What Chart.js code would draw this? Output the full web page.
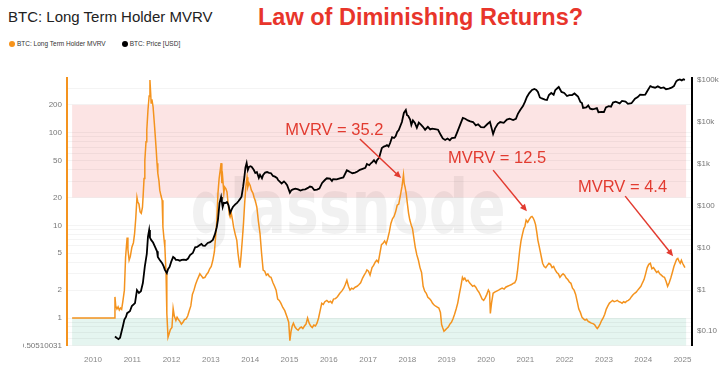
<!DOCTYPE html>
<html><head><meta charset="utf-8">
<script src="https://cdn.jsdelivr.net/npm/chart.js@4.4.1/dist/chart.umd.min.js"></script>
<style>
html,body{margin:0;padding:0;background:#fff;width:723px;height:377px;overflow:hidden;font-family:"Liberation Sans",Arial,sans-serif;}
#title{position:absolute;left:8px;top:8px;font-size:15px;color:#222;white-space:nowrap;}
#sub{position:absolute;left:258px;top:4px;font-size:23.5px;font-weight:bold;color:#e8352b;white-space:nowrap;}
#legend{position:absolute;left:9px;top:40px;font-size:6.5px;color:#333;white-space:nowrap;}
.dot{display:inline-block;width:6px;height:6px;border-radius:50%;margin-right:2px;vertical-align:-1px}
#wrap{position:absolute;left:23px;top:0;width:700px;height:377px;}
</style></head><body>
<div id="title">BTC: Long Term Holder MVRV</div>
<div id="sub">Law of Diminishing Returns?</div>
<div id="legend"><span class="dot" style="background:#f7931a"></span>BTC: Long Term Holder MVRV<span style="display:inline-block;width:16px"></span><span class="dot" style="background:#000"></span>BTC: Price [USD]</div>
<div id="wrap"><canvas id="c" width="700" height="377"></canvas></div>
<script>
// ---- data (decimal years) ----
const mvrvYears = [2009.47,2010.55,2010.56,2010.58,2010.61,2010.64,2010.67,2010.70,2010.73,2010.76,2010.80,2010.83,2010.85,2010.87,2010.89,2010.92,2010.95,2010.99,2011.03,2011.06,2011.09,2011.12,2011.14,2011.17,2011.20,2011.23,2011.26,2011.28,2011.30,2011.32,2011.35,2011.37,2011.40,2011.43,2011.45,2011.47,2011.48,2011.50,2011.53,2011.56,2011.58,2011.61,2011.63,2011.65,2011.68,2011.70,2011.73,2011.76,2011.78,2011.81,2011.83,2011.86,2011.88,2011.91,2011.94,2011.97,2012.01,2012.04,2012.07,2012.11,2012.14,2012.17,2012.21,2012.25,2012.29,2012.33,2012.37,2012.41,2012.45,2012.49,2012.53,2012.57,2012.61,2012.65,2012.69,2012.72,2012.76,2012.80,2012.85,2012.89,2012.93,2012.97,2013.01,2013.05,2013.09,2013.12,2013.15,2013.18,2013.21,2013.24,2013.26,2013.28,2013.30,2013.33,2013.35,2013.38,2013.41,2013.44,2013.47,2013.49,2013.52,2013.55,2013.58,2013.62,2013.66,2013.69,2013.72,2013.74,2013.77,2013.80,2013.83,2013.86,2013.89,2013.92,2013.94,2013.97,2014.00,2014.03,2014.07,2014.10,2014.13,2014.17,2014.21,2014.25,2014.29,2014.33,2014.37,2014.41,2014.45,2014.49,2014.53,2014.58,2014.62,2014.66,2014.70,2014.74,2014.78,2014.83,2014.88,2014.94,2014.98,2015.01,2015.04,2015.07,2015.10,2015.14,2015.18,2015.22,2015.26,2015.30,2015.34,2015.38,2015.42,2015.46,2015.50,2015.54,2015.58,2015.62,2015.66,2015.70,2015.74,2015.78,2015.82,2015.86,2015.90,2015.95,2016.00,2016.04,2016.08,2016.12,2016.17,2016.22,2016.28,2016.33,2016.38,2016.42,2016.46,2016.50,2016.54,2016.58,2016.62,2016.67,2016.72,2016.77,2016.81,2016.86,2016.90,2016.94,2016.97,2017.01,2017.05,2017.10,2017.14,2017.18,2017.22,2017.26,2017.30,2017.34,2017.38,2017.42,2017.46,2017.50,2017.54,2017.58,2017.62,2017.66,2017.70,2017.74,2017.78,2017.82,2017.86,2017.88,2017.90,2017.92,2017.94,2017.97,2018.00,2018.03,2018.06,2018.10,2018.13,2018.16,2018.20,2018.24,2018.28,2018.32,2018.36,2018.40,2018.44,2018.48,2018.52,2018.56,2018.60,2018.64,2018.68,2018.72,2018.76,2018.80,2018.84,2018.87,2018.90,2018.93,2018.96,2019.00,2019.04,2019.08,2019.12,2019.16,2019.20,2019.24,2019.28,2019.32,2019.36,2019.40,2019.43,2019.46,2019.50,2019.54,2019.58,2019.62,2019.66,2019.70,2019.74,2019.78,2019.82,2019.86,2019.90,2019.94,2019.98,2020.02,2020.06,2020.09,2020.11,2020.14,2020.18,2020.22,2020.27,2020.32,2020.36,2020.41,2020.46,2020.50,2020.55,2020.60,2020.65,2020.69,2020.73,2020.77,2020.80,2020.83,2020.86,2020.89,2020.92,2020.96,2020.99,2021.02,2021.06,2021.10,2021.14,2021.17,2021.20,2021.23,2021.26,2021.29,2021.32,2021.35,2021.38,2021.41,2021.44,2021.48,2021.52,2021.56,2021.60,2021.64,2021.68,2021.72,2021.76,2021.80,2021.84,2021.88,2021.92,2021.96,2022.00,2022.04,2022.08,2022.12,2022.16,2022.20,2022.24,2022.28,2022.32,2022.36,2022.40,2022.44,2022.48,2022.52,2022.56,2022.60,2022.64,2022.68,2022.72,2022.76,2022.80,2022.83,2022.86,2022.90,2022.94,2022.98,2023.02,2023.06,2023.10,2023.14,2023.18,2023.22,2023.26,2023.30,2023.34,2023.38,2023.42,2023.46,2023.50,2023.54,2023.58,2023.62,2023.66,2023.70,2023.74,2023.78,2023.82,2023.86,2023.90,2023.94,2023.98,2024.02,2024.06,2024.10,2024.14,2024.18,2024.22,2024.26,2024.30,2024.34,2024.38,2024.42,2024.46,2024.50,2024.54,2024.58,2024.62,2024.66,2024.70,2024.74,2024.78,2024.82,2024.85,2024.88,2024.91,2024.94,2024.97,2025.00,2025.03,2025.06];
const mvrvValues = [1.0,1.0,1.69,1.35,1.25,1.32,1.22,1.28,1.24,1.5,2.0,4.5,5.8,7.4,5.5,4.2,4.6,5.8,6.5,8.2,12,20,18,17,14,13.5,15.7,22,32,50,80,107,176,250,371,260,209,230,190,130,99,65,47,36.6,30,24,21,18.7,9.6,7,5.8,3.0,1.12,0.62,0.68,0.75,0.79,1.27,1.05,0.94,1.02,0.97,0.92,0.86,0.9,0.96,0.98,1.05,1.2,1.35,1.8,2.0,2.3,2.56,2.8,3.0,2.85,2.7,2.75,2.95,3.1,3.4,3.6,4.2,5.2,7.5,11,22,32,40,47,28.6,33,22.3,26,25,23,17,13,12.3,13.5,11.5,9.5,8,6.9,5,4.0,3.5,4.8,7,10.5,17.4,26,33,25.9,28.6,27,24,22.3,20,18.5,15.7,11,8.2,5,3.3,3.2,2.9,3.0,2.8,2.75,2.4,2.2,2.0,1.6,1.55,1.45,1.3,1.2,1.02,0.9,0.57,0.72,0.82,0.88,0.8,0.76,0.74,0.78,0.8,0.77,0.82,0.86,1.0,0.88,0.82,0.79,0.84,0.82,0.88,1.0,1.2,1.44,1.4,1.5,1.55,1.48,1.52,1.45,1.6,1.62,1.7,1.85,1.95,2.1,2.3,2.56,2.2,2.0,2.1,2.05,2.15,2.2,2.3,2.4,2.7,2.9,3.1,3.3,3.2,2.9,3.5,3.7,4.0,4.2,4.0,5.0,6.2,6.4,6.8,6.3,7.2,8.5,10.5,11.8,12.5,14,16.5,17,21,26,30,35.2,28,26,22,17,13.5,11.5,10,9.2,7.5,5.8,4.8,4.2,3.5,3.1,2.2,1.95,1.85,1.67,1.62,1.55,1.44,1.38,1.34,1.31,1.28,1.15,0.85,0.78,0.72,0.74,0.77,0.8,0.86,0.9,0.98,1.1,1.25,1.45,1.8,2.2,2.75,2.6,2.7,2.5,2.56,2.4,2.3,2.2,2.25,2.15,2.0,1.9,1.75,1.6,1.55,1.65,1.8,2.0,1.9,1.12,1.45,1.85,1.9,1.95,2.0,2.05,2.1,2.05,2.15,2.2,2.25,2.3,2.37,2.4,2.6,3.2,4.2,5.5,6.8,7.8,9.2,9.8,11.4,10.8,11.6,12.3,12.5,12.0,11.2,10.2,8.5,6.9,6.0,5.2,4.5,3.9,3.6,3.5,3.7,3.9,3.8,3.5,3.6,3.3,3.1,3.0,2.75,2.9,3.0,2.9,2.7,2.6,2.45,2.37,2.1,2.0,1.8,1.5,1.25,1.15,1.02,0.98,0.95,0.97,0.92,0.9,0.88,0.87,0.85,0.8,0.77,0.8,0.86,0.94,1.0,1.1,1.25,1.35,1.45,1.5,1.55,1.5,1.52,1.55,1.5,1.48,1.44,1.5,1.47,1.52,1.55,1.6,1.7,1.78,1.85,1.9,2.0,2.1,2.2,2.4,2.6,3.0,3.5,3.8,3.9,3.4,3.5,3.3,3.1,3.2,3.0,2.9,2.8,2.75,2.5,2.2,2.4,2.7,3.1,3.6,4.0,4.3,4.4,4.1,3.9,4.2,3.9,3.7,3.5];
const priceYears = [2010.56,2010.60,2010.65,2010.69,2010.73,2010.76,2010.80,2010.84,2010.87,2010.94,2010.99,2011.07,2011.12,2011.17,2011.22,2011.27,2011.32,2011.37,2011.40,2011.43,2011.45,2011.48,2011.53,2011.58,2011.63,2011.65,2011.70,2011.76,2011.80,2011.83,2011.88,2011.91,2011.95,2011.99,2012.04,2012.08,2012.11,2012.16,2012.21,2012.26,2012.31,2012.37,2012.42,2012.47,2012.54,2012.60,2012.65,2012.70,2012.76,2012.80,2012.85,2012.92,2012.98,2013.05,2013.10,2013.15,2013.18,2013.22,2013.26,2013.28,2013.30,2013.33,2013.37,2013.41,2013.45,2013.49,2013.53,2013.56,2013.62,2013.66,2013.70,2013.74,2013.78,2013.82,2013.85,2013.88,2013.91,2013.94,2013.97,2014.01,2014.04,2014.09,2014.13,2014.17,2014.22,2014.25,2014.30,2014.33,2014.38,2014.43,2014.48,2014.53,2014.58,2014.63,2014.68,2014.71,2014.76,2014.80,2014.86,2014.90,2014.94,2015.01,2015.05,2015.09,2015.15,2015.22,2015.28,2015.34,2015.40,2015.47,2015.52,2015.57,2015.63,2015.70,2015.76,2015.83,2015.90,2015.95,2016.03,2016.08,2016.11,2016.20,2016.28,2016.37,2016.46,2016.50,2016.54,2016.60,2016.67,2016.73,2016.79,2016.86,2016.93,2016.97,2017.03,2017.07,2017.10,2017.15,2017.20,2017.23,2017.28,2017.35,2017.40,2017.45,2017.48,2017.52,2017.56,2017.61,2017.66,2017.70,2017.74,2017.78,2017.81,2017.86,2017.91,2017.96,2017.99,2018.02,2018.07,2018.10,2018.14,2018.19,2018.24,2018.29,2018.35,2018.40,2018.45,2018.52,2018.58,2018.63,2018.70,2018.78,2018.85,2018.90,2018.96,2019.02,2019.08,2019.13,2019.21,2019.26,2019.34,2019.41,2019.47,2019.54,2019.60,2019.67,2019.74,2019.80,2019.87,2019.95,2020.03,2020.10,2020.18,2020.23,2020.30,2020.36,2020.45,2020.53,2020.60,2020.69,2020.76,2020.81,2020.87,2020.94,2020.99,2021.04,2021.10,2021.17,2021.23,2021.28,2021.32,2021.37,2021.42,2021.50,2021.55,2021.60,2021.66,2021.72,2021.76,2021.82,2021.85,2021.92,2021.99,2022.06,2022.12,2022.19,2022.25,2022.34,2022.40,2022.44,2022.47,2022.55,2022.60,2022.65,2022.70,2022.76,2022.82,2022.86,2022.95,2023.00,2023.05,2023.12,2023.18,2023.23,2023.30,2023.40,2023.46,2023.55,2023.61,2023.70,2023.79,2023.86,2023.92,2024.00,2024.05,2024.10,2024.18,2024.22,2024.30,2024.37,2024.45,2024.52,2024.58,2024.65,2024.72,2024.78,2024.84,2024.88,2024.93,2024.98,2025.02,2025.06];
const priceValues = [0.075,0.07,0.065,0.07,0.1,0.13,0.19,0.22,0.27,0.3,0.4,0.47,0.96,0.82,0.9,1.41,3.5,7,18,25.8,17,15,13,10.2,8,5.9,5,4.2,3.5,2.9,2.44,3,3.4,4.5,5.9,5.5,5.0,5.0,4.8,5.0,5.1,5.0,5.4,6.5,7.3,10,10.2,11,12,11,10.8,12.7,13.3,15,20,30,45,113,158,120,91,115,113,120,100,66,80,91,105,113,125,140,160,273,450,800,1020,690,820,850,820,700,590,620,450,530,440,530,600,620,590,580,500,480,450,400,359,330,370,340,300,200,230,240,250,240,225,235,240,260,280,273,230,236,250,340,400,440,430,380,420,415,440,460,680,650,620,580,600,640,700,740,780,960,900,1000,1050,1180,1020,1200,1350,2310,2500,2600,2700,2500,3040,4200,4000,4400,5600,6200,7300,9600,15800,18600,14000,13500,11000,8200,10500,9100,7000,9300,8200,7300,6300,7400,6400,6700,6500,6300,4700,3900,3600,3900,3550,4000,4100,5300,8200,12000,11500,10500,10000,9600,8000,8500,7300,7200,8500,9700,5000,6800,8700,9600,9200,11000,11500,10700,11500,15000,18600,23000,29000,37900,47000,55600,59000,56000,50000,37000,35000,33000,32200,42300,47200,43000,55000,62000,65600,50000,47200,40000,42000,42300,46000,39000,29000,27300,20800,21500,23800,20000,19400,19800,20600,16500,16800,16600,21500,23000,22300,28000,29200,26800,30500,29300,26000,27000,34500,37700,43000,42500,43000,52000,69000,66000,63000,68000,62000,64000,58000,60000,63000,69000,90000,96000,99000,94000,100000,97000];
// axis tick labels
const yearTicks = [2010,2011,2012,2013,2014,2015,2016,2017,2018,2019,2020,2021,2022,2023,2024,2025];
const mvrvTickLabels = [0.50510031,1,2,5,10,20,50,100,200];
const mvrvGridValues = [0.50510031,0.6,0.7,0.8,0.9,1,2,3,4,5,6,7,8,9,10,20,30,40,50,60,70,80,90,100,200,300];
const priceTickValues = [0.1,1,10,100,1000,10000,100000];
const priceTickLabels = ['$0.10','$1','$10','$100','$1k','$10k','$100k'];
// shaded zones (MVRV ranges) and their x extent
const bandLows = [20,0.50510031];
const bandHighs = [200,1];
const bandStart = 2009.47, bandEnd = 2025.09;
// annotations in data space
const annoLabels = ['MVRV = 35.2','MVRV = 12.5','MVRV = 4.4'];
const annoTextX = [2014.89,2019.03,2022.34];
const annoTextY = [107,53.3,25.9];
const arrowFromX = [2016.79,2020.18,2023.54];
const arrowFromY = [85.5,39.5,20.7];
const arrowToX = [2017.84,2021.04,2024.76];
const arrowToY = [32.4,14.2,4.65];

const mvrvData = mvrvYears.map((x,i)=>({x, y: mvrvValues[i]}));
const priceData = priceYears.map((x,i)=>({x, y: priceValues[i]}));

const bandColors = ['rgba(240,120,120,0.20)','rgba(110,200,170,0.18)'];
const bandsPlugin = {
  id:'bands',
  beforeDraw(chart){
    const {ctx, scales:{x,y}} = chart;
    ctx.save();
    const x0 = x.getPixelForValue(bandStart), x1 = x.getPixelForValue(bandEnd);
    bandLows.forEach((lo,i)=>{
      const yTop = y.getPixelForValue(bandHighs[i]), yBot = y.getPixelForValue(lo);
      ctx.fillStyle = bandColors[i];
      ctx.fillRect(x0, yTop, x1-x0, yBot-yTop);
    });
    ctx.restore();
  },
  beforeDatasetsDraw(chart){
    const {ctx} = chart;
    ctx.save();
    ctx.font = 'bold 72px "DejaVu Sans", sans-serif';
    const w = ctx.measureText('glassnode').width;
    ctx.translate(325, 233);
    ctx.scale(315/w, 1.05);
    ctx.fillStyle = 'rgba(0,0,0,0.055)';
    ctx.textAlign = 'center';
    ctx.textBaseline = 'alphabetic';
    ctx.fillText('glassnode', 0, 0);
    ctx.restore();
  },
  afterDatasetsDraw(chart){
    const {ctx, scales:{x,y}} = chart;
    ctx.save();
    const red = '#e23b30';
    ctx.fillStyle = red; ctx.strokeStyle = red;
    ctx.font = '16.5px "Liberation Sans", Arial, sans-serif';
    ctx.textBaseline = 'middle'; ctx.textAlign = 'left';
    annoLabels.forEach((t,i)=>{
      ctx.fillText(t, x.getPixelForValue(annoTextX[i]), y.getPixelForValue(annoTextY[i]));
      const ax = x.getPixelForValue(arrowFromX[i]), ay = y.getPixelForValue(arrowFromY[i]);
      const bx = x.getPixelForValue(arrowToX[i]), by = y.getPixelForValue(arrowToY[i]);
      const ang = Math.atan2(by-ay, bx-ax);
      const hl = 7, hw = 3.2;
      ctx.lineWidth = 1.5;
      ctx.beginPath(); ctx.moveTo(ax,ay);
      ctx.lineTo(bx - Math.cos(ang)*hl*0.8, by - Math.sin(ang)*hl*0.8); ctx.stroke();
      ctx.beginPath();
      ctx.moveTo(bx,by);
      ctx.lineTo(bx - Math.cos(ang)*hl - Math.sin(ang)*hw, by - Math.sin(ang)*hl + Math.cos(ang)*hw);
      ctx.lineTo(bx - Math.cos(ang)*hl + Math.sin(ang)*hw, by - Math.sin(ang)*hl - Math.cos(ang)*hw);
      ctx.closePath(); ctx.fill();
    });
    ctx.restore();
  }
};

const tickFont = {family:'"Liberation Sans", Arial, sans-serif', size:8};
new Chart(document.getElementById('c'), {
  type:'line',
  data:{datasets:[
    {label:'BTC: Long Term Holder MVRV', data: mvrvData, yAxisID:'y', borderColor:'#f4931e', borderWidth:1.5, pointRadius:0, tension:0, order:1},
    {label:'BTC: Price [USD]', data: priceData, yAxisID:'y1', borderColor:'#000', borderWidth:1.8, pointRadius:0, tension:0, order:0}
  ]},
  options:{
    responsive:false, animation:false, devicePixelRatio:1,
    layout:{padding:{top:78, left:0, right:0, bottom:0}},
    plugins:{legend:{display:false}, tooltip:{enabled:false}},
    scales:{
      x:{type:'linear', min:2009.34, max:2025.24,
        afterBuildTicks:s=>{s.ticks = yearTicks.map(v=>({value:v}));},
        afterFit:s=>{s.height = 31.5;},
        ticks:{autoSkip:false, maxRotation:0, padding:9, font:tickFont, color:'#888', callback:v=>String(v)},
        grid:{display:false, drawTicks:false}, border:{display:false}},
      y:{type:'logarithmic', position:'left', min:0.50510031, max:390,
        afterBuildTicks:s=>{s.ticks = mvrvGridValues.map(v=>({value:v}));},
        afterFit:s=>{s.width = 44;},
        ticks:{autoSkip:false, padding:5, font:tickFont, color:'#777',
          callback:v=> mvrvTickLabels.includes(v) ? String(v) : ''},
        grid:{color:'rgba(0,0,0,0.045)', drawTicks:false},
        border:{color:'#f4931e', width:2}},
      y1:{type:'logarithmic', position:'right', min:0.0459, max:107400,
        afterBuildTicks:s=>{s.ticks = priceTickValues.map(v=>({value:v}));},
        afterFit:s=>{s.width = 31;},
        ticks:{autoSkip:false, padding:5, font:tickFont, color:'#777',
          callback:v=>{const i = priceTickValues.indexOf(v); return i>=0 ? priceTickLabels[i] : '';}},
        grid:{display:false, drawTicks:false},
        border:{color:'#000', width:2}}
    }
  },
  plugins:[bandsPlugin]
});
</script>
</body></html>
